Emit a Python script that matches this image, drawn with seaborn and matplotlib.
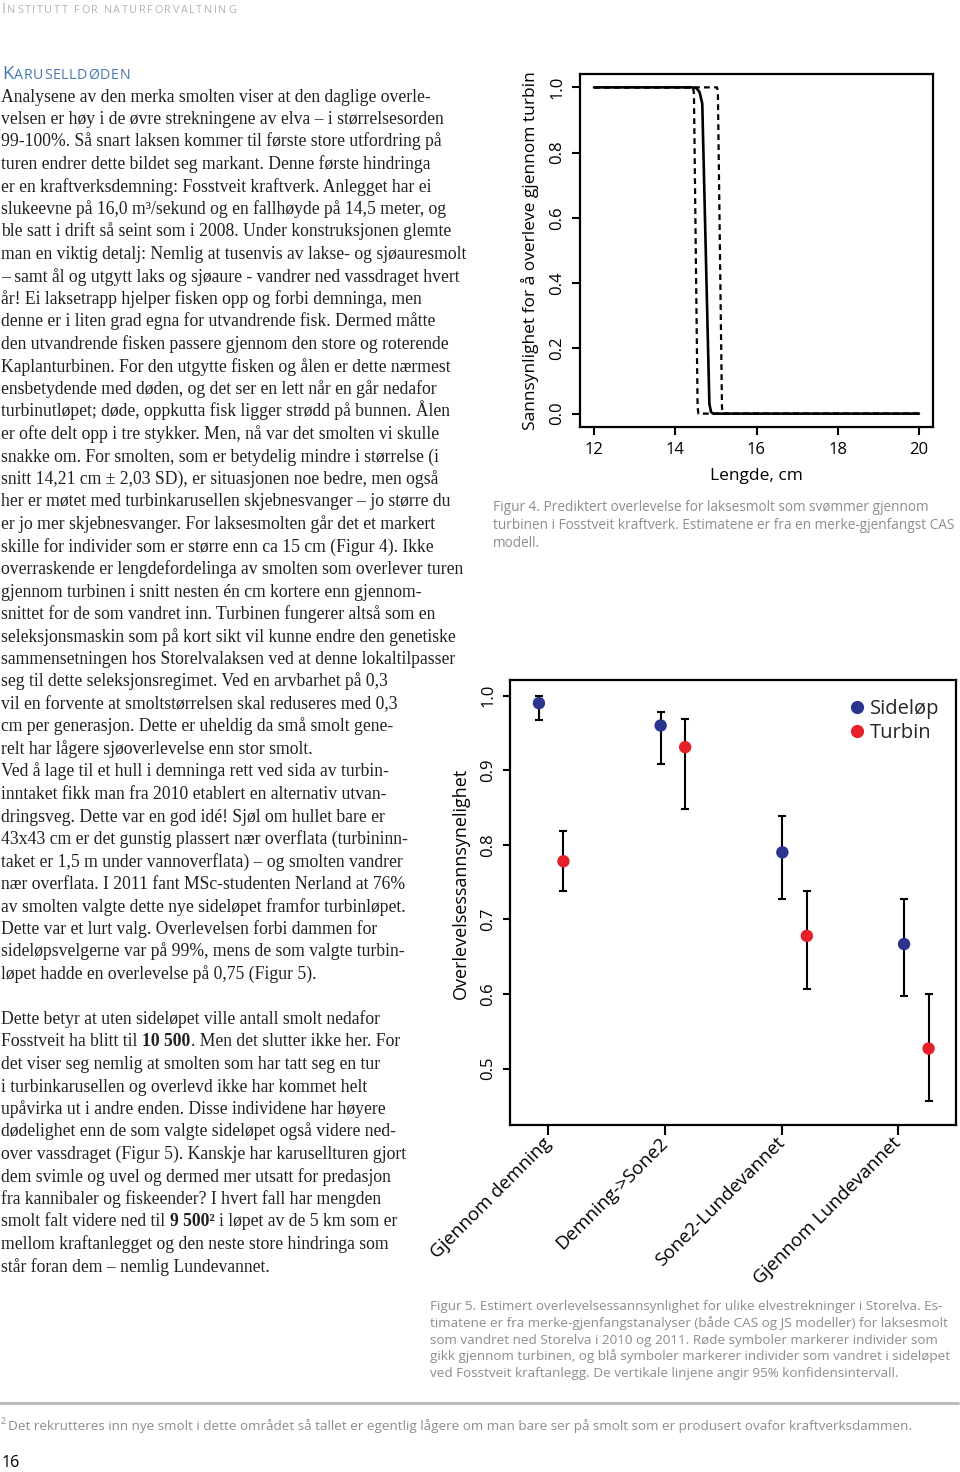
import numpy as np
import pandas as pd
import matplotlib
matplotlib.use("Agg")
import matplotlib.pyplot as plt
from matplotlib.lines import Line2D
import seaborn as sns

# =========================================================
# DATA - FIGUR 4 (predikert overlevelse gjennom turbin)
# =========================================================
lengde_fit = [12.0, 14.40, 14.52, 14.60, 14.665, 14.84, 14.88, 14.93, 20.0]
overlev_fit = [1.0, 1.0, 0.998, 0.985, 0.95, 0.03, 0.005, 0.0, 0.0]
lengde_lo = [12.0, 14.44, 14.46, 14.55, 14.57, 20.0]
overlev_lo = [1.0, 1.0, 0.98, 0.02, 0.0, 0.0]
lengde_hi = [12.0, 15.03, 15.05, 15.15, 15.17, 20.0]
overlev_hi = [1.0, 1.0, 0.98, 0.02, 0.0, 0.0]
x_ticks4 = [12, 14, 16, 18, 20]
y_ticks4 = [0.0, 0.2, 0.4, 0.6, 0.8, 1.0]

# =========================================================
# DATA - FIGUR 5 (overlevelse per elvestrekning)
# =========================================================
strekninger = ["Gjennom demning", "Demning->Sone2", "Sone2-Lundevannet", "Gjennom Lundevannet"]
sidelop = [0.990, 0.960, 0.790, 0.667]
sidelop_lo = [0.967, 0.909, 0.728, 0.597]
sidelop_hi = [1.000, 0.978, 0.839, 0.727]
turbin = [0.778, 0.931, 0.678, 0.527]
turbin_lo = [0.738, 0.848, 0.607, 0.457]
turbin_hi = [0.819, 0.969, 0.738, 0.600]
y_ticks5 = [0.5, 0.6, 0.7, 0.8, 0.9, 1.0]

# =========================================================
# TEXT
# =========================================================
header_text = "Institutt for naturforvaltning"
heading_text = "Karuselldøden"

body_block1 = [
    "Analysene av den merka smolten viser at den daglige overle-",
    "velsen er høy i de øvre strekningene av elva – i størrelsesorden",
    "99-100%. Så snart laksen kommer til første store utfordring på",
    "turen endrer dette bildet seg markant. Denne første hindringa",
    "er en kraftverksdemning: Fosstveit kraftverk. Anlegget har ei",
    "slukeevne på 16,0 m³/sekund og en fallhøyde på 14,5 meter, og",
    "ble satt i drift så seint som i 2008. Under konstruksjonen glemte",
    "man en viktig detalj: Nemlig at tusenvis av lakse- og sjøauresmolt",
    "– samt ål og utgytt laks og sjøaure - vandrer ned vassdraget hvert",
    "år! Ei laksetrapp hjelper fisken opp og forbi demninga, men",
    "denne er i liten grad egna for utvandrende fisk. Dermed måtte",
    "den utvandrende fisken passere gjennom den store og roterende",
    "Kaplanturbinen. For den utgytte fisken og ålen er dette nærmest",
    "ensbetydende med døden, og det ser en lett når en går nedafor",
    "turbinutløpet; døde, oppkutta fisk ligger strødd på bunnen. Ålen",
    "er ofte delt opp i tre stykker. Men, nå var det smolten vi skulle",
    "snakke om. For smolten, som er betydelig mindre i størrelse (i",
    "snitt 14,21 cm ± 2,03 SD), er situasjonen noe bedre, men også",
    "her er møtet med turbinkarusellen skjebnesvanger – jo større du",
    "er jo mer skjebnesvanger. For laksesmolten går det et markert",
    "skille for individer som er større enn ca 15 cm (Figur 4). Ikke",
    "overraskende er lengdefordelinga av smolten som overlever turen",
    "gjennom turbinen i snitt nesten én cm kortere enn gjennom-",
    "snittet for de som vandret inn. Turbinen fungerer altså som en",
    "seleksjonsmaskin som på kort sikt vil kunne endre den genetiske",
    "sammensetningen hos Storelvalaksen ved at denne lokaltilpasser",
    "seg til dette seleksjonsregimet. Ved en arvbarhet på 0,3",
    "vil en forvente at smoltstørrelsen skal reduseres med 0,3",
    "cm per generasjon. Dette er uheldig da små smolt gene-",
    "relt har lågere sjøoverlevelse enn stor smolt.",
    "Ved å lage til et hull i demninga rett ved sida av turbin-",
    "inntaket fikk man fra 2010 etablert en alternativ utvan-",
    "dringsveg. Dette var en god idé! Sjøl om hullet bare er",
    "43x43 cm er det gunstig plassert nær overflata (turbininn-",
    "taket er 1,5 m under vannoverflata) – og smolten vandrer",
    "nær overflata. I 2011 fant MSc-studenten Nerland at 76%",
    "av smolten valgte dette nye sideløpet framfor turbinløpet.",
    "Dette var et lurt valg. Overlevelsen forbi dammen for",
    "sideløpsvelgerne var på 99%, mens de som valgte turbin-",
    "løpet hadde en overlevelse på 0,75 (Figur 5).",
]
# lines with bold runs are given as lists of (text, bold)
body_block2 = [
    [("Dette betyr at uten sideløpet ville antall smolt nedafor", False)],
    [("Fosstveit ha blitt til", False), ("10 500", True), (". Men det slutter ikke her. For", False)],
    [("det viser seg nemlig at smolten som har tatt seg en tur", False)],
    [("i turbinkarusellen og overlevd ikke har kommet helt", False)],
    [("upåvirka ut i andre enden. Disse individene har høyere", False)],
    [("dødelighet enn de som valgte sideløpet også videre ned-", False)],
    [("over vassdraget (Figur 5). Kanskje har karusellturen gjort", False)],
    [("dem svimle og uvel og dermed mer utsatt for predasjon", False)],
    [("fra kannibaler og fiskeender? I hvert fall har mengden", False)],
    [("smolt falt videre ned til", False), ("9 500²", True), ("i løpet av de 5 km som er", False)],
    [("mellom kraftanlegget og den neste store hindringa som", False)],
    [("står foran dem – nemlig Lundevannet.", False)],
]

caption4 = [
    "Figur 4. Prediktert overlevelse for laksesmolt som svømmer gjennom",
    "turbinen i Fosstveit kraftverk. Estimatene er fra en merke-gjenfangst CAS",
    "modell.",
]
caption5 = [
    "Figur 5. Estimert overlevelsessannsynlighet for ulike elvestrekninger i Storelva. Es-",
    "timatene er fra merke-gjenfangstanalyser (både CAS og JS modeller) for laksesmolt",
    "som vandret ned Storelva i 2010 og 2011. Røde symboler markerer individer som",
    "gikk gjennom turbinen, og blå symboler markerer individer som vandret i sideløpet",
    "ved Fosstveit kraftanlegg. De vertikale linjene angir 95% konfidensintervall.",
]
footnote = "Det rekrutteres inn nye smolt i dette området så tallet er egentlig lågere om man bare ser på smolt som er produsert ovafor kraftverksdammen."
page_number = "16"

# =========================================================
# STYLE
# =========================================================
sns.set_theme(style="ticks")
plt.rcParams["font.family"] = ["Open Sans", "DejaVu Sans"]
plt.rcParams["axes.linewidth"] = 1.5

W, H = 960, 1472
fig = plt.figure(figsize=(W / 100, H / 100), dpi=100)
renderer = fig.canvas.get_renderer()

SERIF = ["Liberation Serif", "DejaVu Serif"]
SANS = ["Open Sans", "DejaVu Sans"]
BODY = "#231f20"
GREY = "#8d8d8d"
BLUE_HEAD = "#4677b0"
C_SIDE = "#2b3590"
C_TURB = "#e5202a"


def px(x, y):
    return x / W, 1 - y / H


def runs(x0, y0, parts, gap_after, **kw):
    # draw consecutive text runs on one baseline
    x = x0
    for (txt, extra), gap in zip(parts, gap_after):
        t = fig.text(*px(x, y0), txt, ha="left", va="baseline", **kw, **extra)
        bb = t.get_window_extent(renderer)
        x = bb.x1 + gap


def small_caps(x0, y0, text, big, small, track, **kw):
    # fake small caps with letter spacing: first letter of text big, rest small
    x = x0
    for i, ch in enumerate(text):
        size = big if (i == 0 and ch.isupper()) else small
        if ch == " ":
            x += 0.26 * small * 100 / 72 + track
            continue
        t = fig.text(*px(x, y0), ch.upper(), ha="left", va="baseline",
                     fontsize=size, **kw)
        bb = t.get_window_extent(renderer)
        x = bb.x1 + track


# =========================================================
# HEADER + HEADING (small caps)
# =========================================================
small_caps(2, 13, header_text, 9.8, 7.8, 1.6, color="#b3b3b3", family=SANS)
small_caps(2, 79, heading_text, 13.2, 10.2, 0.7, color=BLUE_HEAD, family=SANS)

# =========================================================
# BODY TEXT
# =========================================================
BODY_SIZE = 12.7
LINE = 22.5
BASE0 = 101.5
space_px = 0.25 * BODY_SIZE * 100 / 72

for i, line in enumerate(body_block1):
    fig.text(*px(1, BASE0 + LINE * i), line, ha="left", va="baseline",
             fontsize=BODY_SIZE, family=SERIF, color=BODY)

for j, parts in enumerate(body_block2):
    y = BASE0 + LINE * (len(body_block1) + 1 + j)
    spec = [(t, {"weight": "bold" if b else "normal"}) for t, b in parts]
    gaps = []
    for k, (t, b) in enumerate(parts):
        nxt = parts[k + 1][0] if k + 1 < len(parts) else ""
        gaps.append(1.0 if nxt.startswith(".") else space_px)
    runs(1, y, spec, gaps, fontsize=BODY_SIZE, family=SERIF, color=BODY)

# =========================================================
# FIGUR 4
# =========================================================
ax4 = fig.add_axes([580 / W, 1 - 427 / H, 353 / W, 353 / H])
sns.lineplot(x=lengde_lo, y=overlev_lo, ax=ax4, color="black", linewidth=1.6,
             linestyle=(0, (2.6, 1.9)), zorder=2)
sns.lineplot(x=lengde_hi, y=overlev_hi, ax=ax4, color="black", linewidth=1.6,
             linestyle=(0, (2.6, 1.9)), zorder=2)
sns.lineplot(x=lengde_fit, y=overlev_fit, ax=ax4, color="black", linewidth=1.9,
             zorder=3)
ax4.set_xlim(11.655, 20.345)
ax4.set_ylim(-0.041, 1.041)
ax4.set_xticks(x_ticks4)
ax4.set_yticks(y_ticks4)
ax4.set_xticklabels([str(v) for v in x_ticks4])
ax4.set_yticklabels([f"{v:.1f}" for v in y_ticks4])
ax4.tick_params(axis="both", direction="out", length=5.5, width=1.5,
                labelsize=12, colors="black", pad=5)
ax4.tick_params(axis="y", labelrotation=90)
for lab in ax4.get_yticklabels():
    lab.set_va("center")
for sp in ax4.spines.values():
    sp.set_visible(True)
    sp.set_color("black")
    sp.set_linewidth(1.6)
ax4.set_xlabel("Lengde, cm", fontsize=12.5, color="black")
ax4.set_ylabel("Sannsynlighet for å overleve gjennom turbin", fontsize=12.5, color="black")
ax4.xaxis.set_label_coords(0.5, (427 - 476) / 353)
ax4.xaxis.label.set_va("center")
ax4.yaxis.set_label_coords((530 - 580) / 353, 0.5)
ax4.yaxis.label.set_va("center")

for i, line in enumerate(caption4):
    fig.text(*px(493, 511 + 18.2 * i), line, ha="left", va="baseline",
             fontsize=9.8, color=GREY)

# =========================================================
# FIGUR 5
# =========================================================
ax5 = fig.add_axes([510 / W, 1 - 1125 / H, 446 / W, 445 / H])
g = np.arange(len(strekninger))
x_side = 0.92 + 1.043 * g
x_turb = x_side + 0.21

df5 = pd.DataFrame({
    "pos": np.concatenate([x_side, x_turb]),
    "overlevelse": sidelop + turbin,
    "lo": sidelop_lo + turbin_lo,
    "hi": sidelop_hi + turbin_hi,
    "gruppe": ["Sideløp"] * len(sidelop) + ["Turbin"] * len(turbin),
})

ax5.errorbar(df5["pos"], df5["overlevelse"],
             yerr=[df5["overlevelse"] - df5["lo"], df5["hi"] - df5["overlevelse"]],
             fmt="none", ecolor="black", elinewidth=1.5, capsize=2.9, capthick=1.5,
             zorder=2)
sns.scatterplot(data=df5, x="pos", y="overlevelse", hue="gruppe",
                palette={"Sideløp": C_SIDE, "Turbin": C_TURB},
                s=80, linewidth=0, ax=ax5, legend=False, zorder=3)

ax5.set_xlim(0.672, 4.494)
ax5.set_ylim(0.4245, 1.021)
ax5.set_xticks(g + 1)
ax5.set_xticklabels(strekninger, rotation=45, ha="right", va="center",
                    rotation_mode="anchor", fontsize=13.5)
ax5.set_yticks(y_ticks5)
ax5.set_yticklabels([f"{v:.1f}" for v in y_ticks5])
ax5.tick_params(axis="x", direction="out", length=7, width=1.5, pad=4, colors="black")
ax5.tick_params(axis="y", direction="out", length=5, width=1.5, labelsize=12,
                labelrotation=90, pad=5, colors="black")
for lab in ax5.get_yticklabels():
    lab.set_va("center")
for sp in ax5.spines.values():
    sp.set_visible(True)
    sp.set_color("black")
    sp.set_linewidth(1.6)
ax5.set_xlabel("")
ax5.set_ylabel("Overlevelsessannsynelighet", fontsize=13, color="black")
ax5.yaxis.set_label_coords((461 - 510) / 446, (1125 - 883) / 445)
ax5.yaxis.label.set_va("center")

handles = [
    Line2D([], [], marker="o", linestyle="none", markersize=9.5,
           markerfacecolor=C_SIDE, markeredgewidth=0, label="Sideløp"),
    Line2D([], [], marker="o", linestyle="none", markersize=9.5,
           markerfacecolor=C_TURB, markeredgewidth=0, label="Turbin"),
]
ax5.legend(handles=handles, loc="upper right", frameon=False, fontsize=14.5,
           bbox_to_anchor=((939 - 510) / 446, (1125 - 699) / 445),
           borderaxespad=0, borderpad=0, handletextpad=0.1, handlelength=1.0,
           labelspacing=0.2)

for i, line in enumerate(caption5):
    fig.text(*px(430, 1310 + 16.8 * i), line, ha="left", va="baseline",
             fontsize=9.7, color=GREY)

# =========================================================
# FOOTNOTE + PAGE NUMBER
# =========================================================
fig.add_artist(Line2D([0, 958 / W], [1 - 1403 / H, 1 - 1403 / H],
                      color="#bdbdbd", linewidth=2.2))
fig.text(*px(1, 1424), "2", ha="left", va="baseline", fontsize=6.5, color=GREY,
         family=SANS)
fig.text(*px(8, 1430), footnote, ha="left", va="baseline", fontsize=9.7,
         color=GREY, family=SANS)
fig.text(*px(2, 1467), page_number, ha="left", va="baseline", fontsize=11.5,
         color="black", family=SANS)

fig.savefig("out.png", dpi=100, facecolor="white")
